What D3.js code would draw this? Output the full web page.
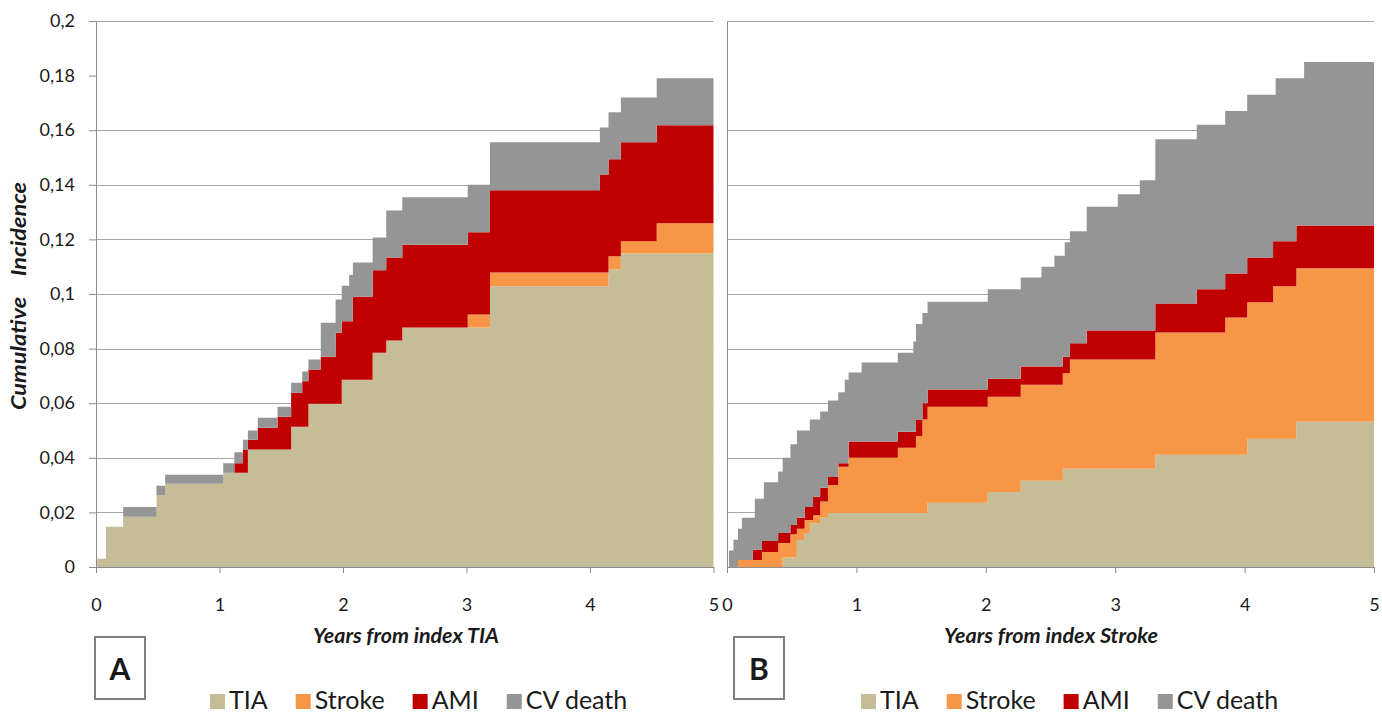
<!DOCTYPE html>
<html>
<head>
<meta charset="utf-8">
<script src="https://cdn.jsdelivr.net/npm/d3@7"></script>
<style>
  body { margin: 0; background: #fff; }
  text { font-family: Lato, "Open Sans", sans-serif; fill: #1a1a1a; }
  .axis path, .axis line { stroke: #8c8c8c; }
</style>
</head>
<body>
<svg id="chart" width="1382" height="717"></svg>
<script>
var keys = ["TIA", "Stroke", "AMI", "CV death"],
    colors = ["#c4bd97", "#f79646", "#c00000", "#959595"], // one per key
    xTicks = [0, 1, 2, 3, 4, 5],
    yTicks = [0, 0.02, 0.04, 0.06, 0.08, 0.1, 0.12, 0.14, 0.16, 0.18, 0.2],
    yTickLabels = ["0", "0,02", "0,04", "0,06", "0,08", "0,1", "0,12", "0,14", "0,16", "0,18", "0,2"],
    gridTicks = [0.02, 0.04, 0.06, 0.08, 0.1, 0.12, 0.14, 0.16, 0.2]; // no 0,18 line in the original

// panel A : after index TIA (cumulative incidence of each event, stacked)
var yearsA  = [0, 0.01, 0.08, 0.22, 0.49, 0.56, 1.03, 1.12, 1.19, 1.23, 1.31, 1.47, 1.58, 1.67, 1.72,
               1.82, 1.94, 1.99, 2.05, 2.08, 2.24, 2.35, 2.48, 3.01, 3.19, 4.08, 4.15, 4.25, 4.54, 5];
var tiaA    = [0, .003, .0147, .0184, .0264, .0305, .0345, .0345, .0345, .043, .043, .043, .0514, .0514, .0598,
               .0598, .0598, .0686, .0686, .0686, .0785, .083, .0877, .0877, .1028, .1028, .109, .1148, .1148, .1148];
var strokeA = [0, 0, 0, 0, 0, 0, 0, 0, 0, 0, 0, 0, 0, 0, 0,
               0, 0, 0, 0, 0, 0, 0, 0, .0048, .0051, .0051, .0048, .0045, .0111, .0111];
var amiA    = [0, 0, 0, 0, 0, 0, 0, .0035, .0085, .0036, .008, .012, .0124, .0166, .0125,
               .0172, .026, .0214, .0214, .0304, .0302, .0304, .0303, .0301, .0301, .0359, .0356, .0363, .0359, .0359];
var cvA     = [0, 0, 0, .0036, .0034, .0033, .0035, .004, .0036, .0034, .0037, .0037, .0037, .0036, .0037,
               .0125, .0122, .013, .017, .0125, .012, .0172, .0174, .0174, .0176, .0172, .0172, .0164, .0172, .0172];

// panel B : after index Stroke
var yearsB  = [0, 0.015, 0.05, 0.085, 0.115, 0.2, 0.215, 0.27, 0.285, 0.395, 0.43, 0.49, 0.54, 0.6, 0.64, 0.665,
               0.72, 0.78, 0.86, 0.91, 0.94, 1.04, 1.32, 1.44, 1.46, 1.51, 1.55, 2.015, 2.27, 2.43, 2.53,
               2.595, 2.61, 2.65, 2.78, 3.02, 3.19, 3.31, 3.63, 3.85, 4.02, 4.22, 4.24, 4.4, 4.46, 5];
var tiaB    = [0, 0, 0, 0, 0, 0, 0, 0, 0, 0, .0035, .0035, .0099, .0125, .016, .016,
               .018, .0198, .0198, .0198, .0198, .0198, .0198, .0198, .0198, .0198, .0235, .0275, .0316, .0316, .0316,
               .036, .036, .036, .036, .036, .036, .0411, .0411, .0411, .047, .047, .047, .0532, .0532, .0532];
var strokeB = [0, 0, 0, .0026, .0026, .0026, .0026, .0055, .0055, .0088, .0053, .0085, .0041, .0047, .0012, .003,
               .006, .0102, .0169, .0169, .0202, .0202, .0239, .0239, .0282, .0342, .0352, .0349, .0352, .0352, .0352,
               .035, .035, .04, .04, .04, .04, .0448, .0448, .0503, .05, .0558, .0558, .0562, .0562, .0562];
var amiB    = [0, 0, 0, 0, 0, .0037, .0037, .004, .004, .0037, .0037, .0034, .004, .0048, .0048, .0067,
               .005, .003, .0013, .0013, .006, .006, .0058, .0058, .006, .006, .0063, .0066, .0066, .0066, .0066,
               .006, .006, .006, .0106, .0106, .0106, .0106, .0158, .0161, .0164, .0165, .0165, .0157, .0157, .0157];
var cvB     = [0, .006, .01, .0114, .0154, .0117, .0187, .0155, .0215, .0225, .0275, .0296, .032, .028, .032, .0283,
               .028, .028, .026, .0306, .0252, .0289, .029, .0331, .035, .033, .0322, .0327, .0326, .0366, .0406,
               .037, .042, .041, .0454, .0499, .0551, .0602, .0603, .0595, .0596, .0537, .0597, .0539, .0599, .0599];

var svg = d3.select("#chart");

var y = d3.scaleLinear().domain([0, 0.2]).range([567, 21]);

function drawPanel(p) {
  var x = d3.scaleLinear().domain([0, 5]).range(p.range);

  var rows = p.years.map(function(t, i) {
    return { year: t, "TIA": p.tia[i], "Stroke": p.stroke[i], "AMI": p.ami[i], "CV death": p.cv[i] };
  });
  var layers = d3.stack().keys(keys)(rows);

  var g = svg.append("g");

  // gridlines first so the areas cover them
  g.selectAll(".grid")
      .data(gridTicks)
      .enter().append("line")
      .attr("class", "grid")
      .attr("x1", x(0)).attr("x2", x(5))
      .attr("y1", function(d) { return Math.round(y(d)) + 0.5; })
      .attr("y2", function(d) { return Math.round(y(d)) + 0.5; })
      .attr("stroke", "#a6a6a6");

  var area = d3.area()
      .curve(d3.curveStepAfter)
      .x(function(d) { return x(d.data.year); })
      .y0(function(d) { return y(d[0]); })
      .y1(function(d) { return y(d[1]); });

  g.selectAll(".layer")
      .data(layers)
      .enter().append("path")
      .attr("class", "layer")
      .attr("d", area)
      .attr("fill", function(d, i) { return colors[i]; });

  // y axis
  var yAxis = d3.axisLeft(y)
      .tickValues(yTicks)
      .tickSize(p.yLabels ? 7 : 0)
      .tickSizeOuter(0)
      .tickPadding(14)
      .tickFormat(function(d, i) { return p.yLabels ? yTickLabels[i] : ""; });
  g.append("g")
      .attr("class", "axis")
      .attr("transform", "translate(" + x(0) + ",0)")
      .call(yAxis)
      .call(function(a) { a.selectAll("text").style("font-size", "18px").attr("fill", "#1a1a1a"); });

  // x axis
  var xAxis = d3.axisBottom(x)
      .tickValues(xTicks)
      .tickSize(6)
      .tickSizeOuter(0)
      .tickPadding(25)
      .tickFormat(d3.format("d"));
  g.append("g")
      .attr("class", "axis")
      .attr("transform", "translate(0,567)")
      .call(xAxis)
      .call(function(a) { a.selectAll("text").style("font-size", "18px").attr("fill", "#1a1a1a"); });

  g.append("text")
      .attr("x", p.titleX)
      .attr("y", 643)
      .attr("text-anchor", "middle")
      .attr("textLength", p.titleLen)
      .attr("lengthAdjust", "spacingAndGlyphs")
      .style("font-size", "20px")
      .style("font-weight", "bold")
      .style("font-style", "italic")
      .text(p.title);

  // panel letter box
  g.append("rect")
      .attr("x", p.box).attr("y", 637)
      .attr("width", 50).attr("height", 62)
      .attr("fill", "#fff")
      .attr("stroke", "#7f7f7f")
      .attr("stroke-width", 2);
  g.append("text")
      .attr("x", p.box + 25).attr("y", 680)
      .attr("text-anchor", "middle")
      .style("font-size", "30px")
      .style("font-weight", "bold")
      .text(p.letter);

  // legend
  var lx = p.legendX;
  keys.forEach(function(k, i) {
    g.append("rect")
        .attr("x", lx).attr("y", 694)
        .attr("width", 15).attr("height", 15)
        .attr("fill", colors[i]);
    var t = g.append("text")
        .attr("x", lx + 19).attr("y", 709)
        .style("font-size", "25px")
        .text(k);
    lx += 19 + t.node().getComputedTextLength() + 28;
  });
}

drawPanel({ range: [96, 713.5], years: yearsA, tia: tiaA, stroke: strokeA, ami: amiA, cv: cvA,
            yLabels: true, title: "Years from index TIA", titleX: 406, titleLen: 186,
            letter: "A", box: 95, legendX: 210 });
drawPanel({ range: [727, 1374], years: yearsB, tia: tiaB, stroke: strokeB, ami: amiB, cv: cvB,
            yLabels: false, title: "Years from index Stroke", titleX: 1051, titleLen: 214,
            letter: "B", box: 734, legendX: 861 });

svg.append("text")
    .attr("transform", "translate(26,296) rotate(-90)")
    .attr("text-anchor", "middle")
    .attr("textLength", 228)
    .attr("lengthAdjust", "spacingAndGlyphs")
    .style("font-size", "20px")
    .style("font-weight", "bold")
    .style("font-style", "italic")
    .style("white-space", "pre")
    .text("Cumulative    Incidence");
</script>
</body>
</html>
